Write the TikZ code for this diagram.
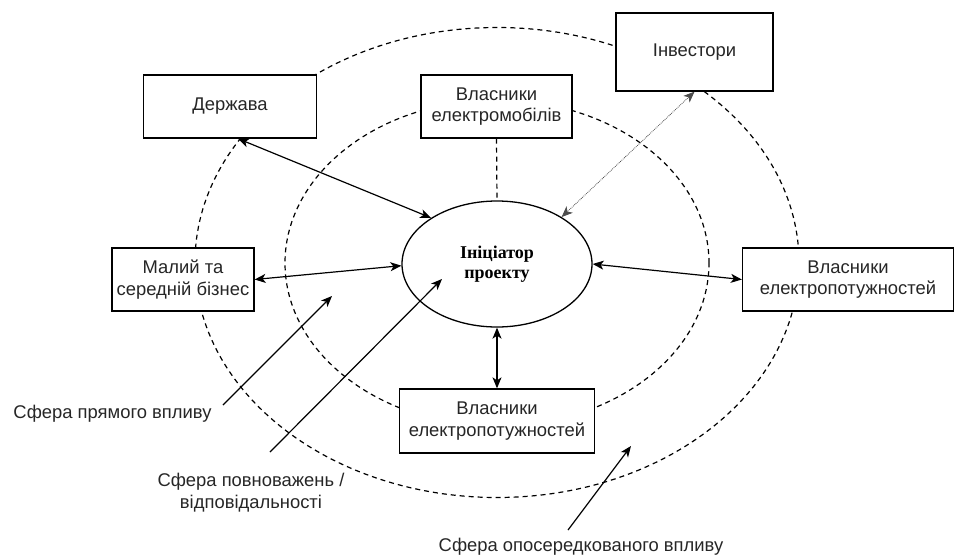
\documentclass[tikz,border=0pt]{standalone}
\usepackage{fontspec}
\setmainfont{Liberation Sans}
\newfontfamily\initfont{Liberation Serif}
\usetikzlibrary{shapes.geometric,arrows.meta}

\begin{document}
\begin{tikzpicture}[
  x=1pt,y=-1pt,
  box/.style={rectangle,draw,fill=white,line width=1.3pt,minimum height=63pt,
              align=center,font=\fontsize{18.4}{21.5}\selectfont,text=black!85},
  sphere/.style={line width=1.2pt,dash pattern=on 5pt off 4pt},
  arrow/.style={<->,>={Stealth[length=11pt,width=9pt,inset=3pt]},line width=1.2pt},
  pointer/.style={->,>={Stealth[length=11pt,width=9pt,inset=3pt]},line width=1.2pt},
  lbl/.style={align=center,font=\fontsize{18.4}{21.5}\selectfont,text=black!85}
]
\useasboundingbox (0,0) rectangle (954,557);

% spheres of influence
\draw[sphere] (497,262.5) ellipse [x radius=302pt, y radius=235pt];
\draw[sphere] (497,263) ellipse [x radius=212pt, y radius=163pt];

\node[ellipse,draw,fill=white,line width=1.3pt,minimum width=190pt,minimum height=126pt,
      inner sep=0pt,align=center,font=\initfont\bfseries\fontsize{18}{20}\selectfont]
      (init) at (497,264) {Ініціатор\\проекту};

\node[box,minimum width=173pt]               (gov)   at (230,106.5) {Держава};
\node[box,minimum width=157pt,minimum height=78pt] (inv) at (694.5,52) {Інвестори};
\node[box,minimum width=151pt]               (evown) at (496.5,106.5) {Власники\\електромобілів};
\node[box,minimum width=142pt]               (sme)   at (183,279.5) {Малий та\\середній бізнес};
\node[box,minimum width=211pt]               (pwr)   at (848,279.5) {Власники\\електропотужностей};
\node[box,minimum width=195pt,minimum height=64pt] (pwrb) at (497,421) {Власники\\електропотужностей};

\draw[arrow] ([xshift=8pt]gov.south) -- (init.145);
\draw[arrow,line width=0.8pt,black!70,densely dotted] (inv.south) -- (init.36);
\draw[sphere] (evown.south) -- (init.north);
\draw[arrow] (sme.east) -- (init.181);
\draw[arrow] (init.0) -- (pwr.west);
\draw[arrow] (init.south) -- (pwrb.north);

% labels of the spheres
\node[lbl] (direct)    at (112.5,414) {Сфера прямого впливу};
\node[lbl] (authority) at (251,492.5) {Сфера повноважень /\\відповідальності};
\node[lbl] (indirect)  at (581,547)   {Сфера опосередкованого впливу};

\coordinate (t1) at (223,405);
\coordinate (h1) at (332,296);
\coordinate (t2) at (270,452);
\coordinate (h2) at (442,279);
\coordinate (t3) at (568,530);
\coordinate (h3) at (631,446);
\draw[pointer] (t1) -- (h1);
\draw[pointer] (t2) -- (h2);
\draw[pointer] (t3) -- (h3);
\end{tikzpicture}
\end{document}
